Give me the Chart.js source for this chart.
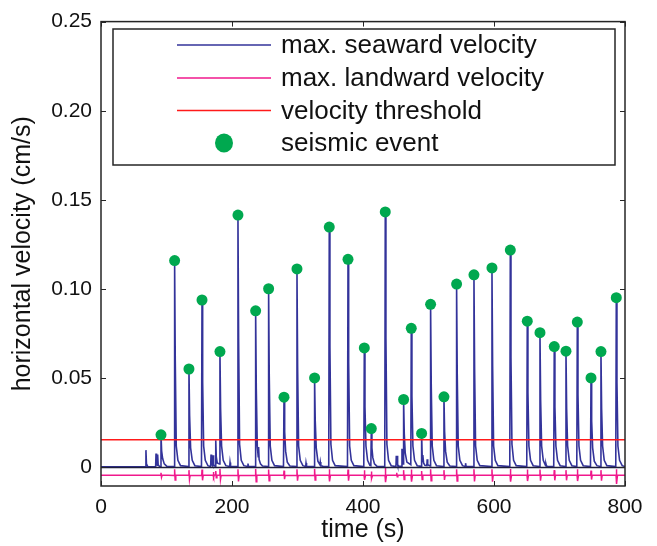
<!DOCTYPE html>
<html>
<head>
<meta charset="utf-8">
<title>Horizontal velocity</title>
<script src="https://cdn.jsdelivr.net/npm/chart.js@4.4.1/dist/chart.umd.min.js"></script>
<style>
  html, body { margin: 0; padding: 0; background: #fff; }
  #wrap { width: 657px; height: 546px; }
</style>
</head>
<body>
<div id="wrap"><canvas id="velocityChart" width="657" height="546"></canvas></div>
<script>
// -- DATA --
const xTicks = [0, 200, 400, 600, 800];
const yTicks = [0, 0.05, 0.1, 0.15, 0.2, 0.25];
const yTickLabels = ["0", "0.05", "0.10", "0.15", "0.20", "0.25"];

// seismic events: time (s) and peak seaward velocity (cm/s)
const eventTime = [91.6, 112.4, 134.3, 154.2, 181.6, 209.1, 236.1, 255.9, 279.4, 299.2, 326.1,
  348.5, 377.1, 402.0, 412.7, 434.0, 462.0, 473.7, 489.5, 503.2, 523.6, 542.9, 569.4,
  596.9, 624.9, 650.8, 670.2, 692.0, 709.9, 727.2, 748.1, 763.3, 786.7];
const eventVel = [0.0183, 0.116, 0.0552, 0.0939, 0.065, 0.1415, 0.0878, 0.1002, 0.0394, 0.1113, 0.0502,
  0.1348, 0.1167, 0.067, 0.0218, 0.1433, 0.0381, 0.078, 0.0191, 0.0915, 0.0396, 0.1028, 0.108,
  0.1119, 0.1219, 0.082, 0.0756, 0.0678, 0.0652, 0.0815, 0.0502, 0.065, 0.0952];

// max. seaward velocity trace
const seawardTime = [
  0,
  67.9, 68.6, 69.4, 71.5,
  83.4, 84.0, 84.8,
  86.0, 86.5, 87.3, 89.5,
  90.9, 91.6, 92.6, 94.1, 96.6, 100.6,
  111.6, 112.4, 113.4, 114.9, 117.4, 121.4,
  133.5, 134.3, 135.3, 136.8, 139.3, 143.3,
  153.4, 154.2, 155.2, 156.7, 159.2, 163.2,
  167.4, 168.0, 168.8, 170.6, 171.2, 171.9, 174.6, 175.2, 176.0, 177.5,
  180.8, 181.6, 182.6, 184.1, 186.6, 190.6,
  196.5, 197.0, 197.8,
  208.3, 209.1, 210.1, 211.6, 214.1, 218.1,
  223.9, 224.4, 225.2,
  235.3, 236.1, 237.1, 238.6, 240.0, 240.6, 241.4, 243.5, 246.5,
  255.1, 255.9, 256.9, 258.4, 260.9, 264.9,
  278.6, 279.4, 280.4, 281.9, 284.4, 288.4,
  298.4, 299.2, 300.2, 301.7, 304.2, 308.2,
  312.5, 313.0, 313.8,
  325.3, 326.1, 327.1, 328.6, 331.1,
  334.3, 334.8, 335.6, 339.0,
  347.7, 348.5, 349.5, 351.0, 353.5, 357.5,
  376.3, 377.1, 378.1, 379.6, 382.1, 386.1,
  401.2, 402.0, 403.0, 404.5, 407.0, 410.5,
  412.0, 412.7, 413.6, 415.0, 417.5, 421.5,
  433.2, 434.0, 435.0, 436.5, 439.0, 443.0,
  450.3, 450.8, 451.5, 452.0, 452.5, 453.2, 455.0,
  459.0, 459.5, 460.2, 461.4, 462.0, 463.0, 464.5, 467.0,
  473.0, 473.7, 474.7, 476.2, 478.7, 482.7,
  488.8, 489.5, 490.4, 491.0, 491.6, 492.5, 494.5,
  497.5, 498.0, 498.8, 502.5, 503.2, 504.2, 505.7, 508.2, 512.2,
  522.8, 523.6, 524.6, 526.1, 528.6, 532.6,
  542.1, 542.9, 543.9, 545.4, 547.9, 551.9,
  556.1, 556.6, 557.4,
  568.6, 569.4, 570.4, 571.9, 574.4, 578.4,
  596.1, 596.9, 597.9, 599.4, 601.9, 605.9,
  624.1, 624.9, 625.9, 627.4, 629.9, 633.9,
  650.0, 650.8, 651.8, 653.3, 655.8, 659.8,
  669.4, 670.2, 671.2, 672.7, 675.2, 678.8, 679.3, 680.1, 682.0,
  691.2, 692.0, 693.0, 694.5, 697.0, 701.0,
  709.1, 709.9, 710.9, 712.4, 714.9, 718.9,
  726.4, 727.2, 728.2, 729.7, 732.2, 736.2,
  747.3, 748.1, 749.1, 750.6, 753.1, 757.1,
  762.5, 763.3, 764.3, 765.8, 768.3, 772.3,
  785.9, 786.7, 787.7, 789.2, 791.7, 795.7, 800
];
const seawardVel = [
  0.0003,
  0.0003, 0.0097, 0.0020, 0.0003,
  0.0003, 0.0078, 0.0015,
  0.0012, 0.0072, 0.0015, 0.0004,
  0.0005, 0.0183, 0.0092, 0.0050, 0.0020, 0.0006,
  0.0005, 0.1160, 0.0600, 0.0120, 0.0040, 0.0010,
  0.0005, 0.0552, 0.0290, 0.0110, 0.0040, 0.0010,
  0.0005, 0.0939, 0.0480, 0.0120, 0.0040, 0.0010,
  0.0005, 0.0072, 0.0020, 0.0008, 0.0068, 0.0015, 0.0006, 0.0152, 0.0060, 0.0025,
  0.0020, 0.0650, 0.0330, 0.0120, 0.0040, 0.0010,
  0.0005, 0.0028, 0.0006,
  0.0005, 0.1415, 0.0720, 0.0130, 0.0040, 0.0010,
  0.0005, 0.0022, 0.0006,
  0.0005, 0.0878, 0.0440, 0.0120, 0.0060, 0.0115, 0.0045, 0.0020, 0.0008,
  0.0005, 0.1002, 0.0510, 0.0120, 0.0040, 0.0010,
  0.0005, 0.0394, 0.0200, 0.0090, 0.0030, 0.0008,
  0.0005, 0.1113, 0.0560, 0.0120, 0.0040, 0.0010,
  0.0005, 0.0025, 0.0006,
  0.0005, 0.0502, 0.0260, 0.0110, 0.0035,
  0.0015, 0.0030, 0.0010, 0.0006,
  0.0005, 0.1348, 0.0680, 0.0130, 0.0040, 0.0010,
  0.0005, 0.1167, 0.0590, 0.0120, 0.0040, 0.0010,
  0.0005, 0.0670, 0.0340, 0.0120, 0.0040, 0.0012,
  0.0010, 0.0218, 0.0110, 0.0055, 0.0020, 0.0006,
  0.0005, 0.1433, 0.0730, 0.0130, 0.0040, 0.0010,
  0.0005, 0.0065, 0.0020, 0.0030, 0.0065, 0.0015, 0.0006,
  0.0006, 0.0105, 0.0030, 0.0020, 0.0381, 0.0190, 0.0080, 0.0030,
  0.0015, 0.0780, 0.0400, 0.0120, 0.0040, 0.0010,
  0.0006, 0.0191, 0.0060, 0.0030, 0.0070, 0.0025, 0.0012,
  0.0010, 0.0046, 0.0015, 0.0008, 0.0915, 0.0460, 0.0120, 0.0040, 0.0010,
  0.0005, 0.0396, 0.0200, 0.0090, 0.0030, 0.0008,
  0.0005, 0.1028, 0.0520, 0.0120, 0.0040, 0.0010,
  0.0005, 0.0024, 0.0006,
  0.0005, 0.1080, 0.0550, 0.0120, 0.0040, 0.0010,
  0.0005, 0.1119, 0.0570, 0.0120, 0.0040, 0.0010,
  0.0005, 0.1219, 0.0620, 0.0130, 0.0040, 0.0010,
  0.0005, 0.0820, 0.0420, 0.0120, 0.0040, 0.0010,
  0.0005, 0.0756, 0.0380, 0.0120, 0.0040, 0.0010, 0.0020, 0.0008, 0.0006,
  0.0005, 0.0678, 0.0340, 0.0120, 0.0040, 0.0010,
  0.0005, 0.0652, 0.0330, 0.0120, 0.0040, 0.0010,
  0.0005, 0.0815, 0.0410, 0.0120, 0.0040, 0.0010,
  0.0005, 0.0502, 0.0260, 0.0110, 0.0035, 0.0010,
  0.0005, 0.0650, 0.0330, 0.0120, 0.0040, 0.0010,
  0.0005, 0.0952, 0.0480, 0.0120, 0.0040, 0.0010, 0.0005
];

// max. landward velocity trace
const landwardTime = [
  0, 89.0,
  91.2, 91.6, 92.4, 93.4,
  112.0, 112.4, 113.2, 114.2,
  133.9, 134.3, 135.1, 136.1,
  153.8, 154.2, 155.0, 156.0,
  171.1, 171.5, 172.3, 173.0,
  174.8, 175.2, 176.0, 177.0,
  181.2, 181.6, 182.4, 183.4,
  208.7, 209.1, 209.9, 210.9,
  235.7, 236.1, 236.9, 237.9,
  255.5, 255.9, 256.7, 257.7,
  279.0, 279.4, 280.2, 281.2,
  298.8, 299.2, 300.0, 301.0,
  325.7, 326.1, 326.9, 327.9,
  348.1, 348.5, 349.3, 350.3,
  376.7, 377.1, 377.9, 378.9,
  401.6, 402.0, 402.8, 403.8,
  412.3, 412.7, 413.5, 414.5,
  433.6, 434.0, 434.8, 435.8,
  451.1, 451.5, 452.3, 453.2,
  461.6, 462.0, 462.8, 463.8,
  473.3, 473.7, 474.5, 475.5,
  489.1, 489.5, 490.3, 491.3,
  502.8, 503.2, 504.0, 505.0,
  523.2, 523.6, 524.4, 525.4,
  542.5, 542.9, 543.7, 544.7,
  569.0, 569.4, 570.2, 571.2,
  596.5, 596.9, 597.7, 598.7,
  624.5, 624.9, 625.7, 626.7,
  650.4, 650.8, 651.6, 652.6,
  669.8, 670.2, 671.0, 672.0,
  691.6, 692.0, 692.8, 693.8,
  709.5, 709.9, 710.7, 711.7,
  726.8, 727.2, 728.0, 729.0,
  747.7, 748.1, 748.9, 749.9,
  762.9, 763.3, 764.1, 765.1,
  786.3, 786.7, 787.5, 788.5,
  800
];
const landwardVel = [
  -0.0044, -0.0044,
  -0.0044, -0.0030, -0.0055, -0.0043,
  -0.0045, -0.0010, -0.0070, -0.0044,
  -0.0044, -0.0015, -0.0068, -0.0045,
  -0.0045, -0.0012, -0.0072, -0.0044,
  -0.0044, -0.0025, -0.0055, -0.0043,
  -0.0043, -0.0020, -0.0058, -0.0044,
  -0.0044, -0.0008, -0.0068, -0.0045,
  -0.0044, -0.0010, -0.0078, -0.0044,
  -0.0045, -0.0008, -0.0080, -0.0044,
  -0.0044, -0.0012, -0.0075, -0.0044,
  -0.0044, -0.0018, -0.0066, -0.0045,
  -0.0044, -0.0010, -0.0074, -0.0044,
  -0.0045, -0.0008, -0.0070, -0.0044,
  -0.0044, -0.0010, -0.0078, -0.0044,
  -0.0044, -0.0012, -0.0074, -0.0044,
  -0.0044, -0.0015, -0.0070, -0.0044,
  -0.0044, -0.0022, -0.0062, -0.0045,
  -0.0044, 0.0000, -0.0082, -0.0044,
  -0.0044, -0.0030, -0.0052, -0.0044,
  -0.0044, -0.0015, -0.0068, -0.0044,
  -0.0044, -0.0012, -0.0080, -0.0044,
  -0.0044, -0.0020, -0.0068, -0.0044,
  -0.0044, -0.0010, -0.0074, -0.0044,
  -0.0044, -0.0015, -0.0070, -0.0045,
  -0.0044, -0.0010, -0.0076, -0.0044,
  -0.0044, -0.0010, -0.0078, -0.0044,
  -0.0044, -0.0010, -0.0080, -0.0044,
  -0.0044, -0.0008, -0.0080, -0.0044,
  -0.0044, -0.0012, -0.0076, -0.0044,
  -0.0044, -0.0012, -0.0074, -0.0044,
  -0.0044, -0.0015, -0.0072, -0.0044,
  -0.0044, -0.0015, -0.0072, -0.0044,
  -0.0044, -0.0010, -0.0076, -0.0044,
  -0.0044, -0.0018, -0.0068, -0.0044,
  -0.0044, -0.0015, -0.0074, -0.0044,
  -0.0044, -0.0010, -0.0092, -0.0044,
  -0.0044
];

const thresholdTime = [0, 800];
const thresholdVel = [0.0155, 0.0155];
const zeroTime = [0, 800];
const zeroVel = [0, 0];

// -- HELPERS --
const FONT = "'Liberation Sans', Arial, Helvetica, sans-serif";
const toPoints = (xs, ys) => xs.map((x, i) => ({ x: x, y: ys[i] }));

// Box round the axes with inward ticks + MATLAB-style legend
const frameAndLegend = {
  id: "frameAndLegend",
  afterDatasetsDraw(chart) {
    const { ctx, chartArea: a, scales } = chart;
    ctx.save();
    ctx.strokeStyle = "#262626";
    ctx.lineWidth = 1.5;
    ctx.strokeRect(a.left, a.top, a.right - a.left, a.bottom - a.top);

    ctx.beginPath();
    xTicks.forEach((v) => {
      const px = Math.round(scales.x.getPixelForValue(v)) + 0.5;
      ctx.moveTo(px, a.bottom); ctx.lineTo(px, a.bottom - 5);
      ctx.moveTo(px, a.top); ctx.lineTo(px, a.top + 5);
    });
    yTicks.forEach((v) => {
      const py = Math.round(scales.y.getPixelForValue(v)) + 0.5;
      ctx.moveTo(a.left, py); ctx.lineTo(a.left + 5, py);
      ctx.moveTo(a.right, py); ctx.lineTo(a.right - 5, py);
    });
    ctx.lineWidth = 1;
    ctx.stroke();

    // legend box
    const box = { left: 113, top: 29, right: 615, bottom: 165 };
    ctx.fillStyle = "#fff";
    ctx.fillRect(box.left, box.top, box.right - box.left, box.bottom - box.top);
    ctx.lineWidth = 1.5;
    ctx.strokeStyle = "#262626";
    ctx.strokeRect(box.left, box.top, box.right - box.left, box.bottom - box.top);

    const rowY = [45, 78, 110.5, 143];
    const items = chart.data.datasets.filter((d) => d.label);
    items.sort((p, q) => p.legendRank - q.legendRank);
    ctx.font = "26px " + FONT;
    ctx.textBaseline = "middle";
    ctx.textAlign = "left";
    items.forEach((d, i) => {
      const y = rowY[i];
      if (d.showLine === false) {
        ctx.beginPath();
        ctx.fillStyle = d.pointBackgroundColor;
        ctx.ellipse(224, y, 9, 9.5, 0, 0, Math.PI * 2);
        ctx.fill();
      } else {
        ctx.beginPath();
        ctx.strokeStyle = d.borderColor;
        ctx.lineWidth = 1.5;
        ctx.moveTo(177, y);
        ctx.lineTo(271, y);
        ctx.stroke();
      }
      ctx.fillStyle = "#111";
      ctx.fillText(d.label, 281, y + 1);
    });
    ctx.restore();
  },
};

document.addEventListener("DOMContentLoaded", function () {
  const ctx = document.getElementById("velocityChart");

  new Chart(ctx, {
    type: "scatter",
    data: {
      datasets: [
        {
          label: "seismic event",
          legendRank: 3,
          data: toPoints(eventTime, eventVel),
          showLine: false,
          pointRadius: 5.5,
          pointBackgroundColor: "#00a84f",
          pointBorderWidth: 0,
          order: 0,
        },
        {
          label: "velocity threshold",
          legendRank: 2,
          data: toPoints(thresholdTime, thresholdVel),
          showLine: true,
          borderColor: "#ff1a1a",
          borderWidth: 1.5,
          pointRadius: 0,
          order: 1,
        },
        {
          label: "max. seaward velocity",
          legendRank: 0,
          data: toPoints(seawardTime, seawardVel),
          showLine: true,
          borderColor: "#33339a",
          borderWidth: 1.6,
          pointRadius: 0,
          order: 3,
        },
        {
          label: "max. landward velocity",
          legendRank: 1,
          data: toPoints(landwardTime, landwardVel),
          showLine: true,
          borderColor: "#f0188c",
          borderWidth: 1.5,
          pointRadius: 0,
          order: 4,
        },
        {
          data: toPoints(zeroTime, zeroVel),
          showLine: true,
          borderColor: "#1e1e3c",
          borderWidth: 1.5,
          pointRadius: 0,
          order: 2,
        },
      ],
    },
    options: {
      responsive: false,
      animation: false,
      events: [],
      layout: { padding: { left: 0, right: 32, top: 18, bottom: 0 } },
      plugins: {
        legend: { display: false },
        tooltip: { enabled: false },
      },
      scales: {
        x: {
          type: "linear",
          min: 0,
          max: 800,
          grid: { display: false, drawTicks: false },
          border: { display: false },
          afterBuildTicks: (scale) => { scale.ticks = xTicks.map((v) => ({ value: v })); },
          afterFit: (scale) => { scale.height = 60; },
          ticks: {
            padding: 9,
            color: "#111",
            font: { family: FONT, size: 21 },
            maxRotation: 0,
            callback: (v) => String(v),
          },
          title: {
            display: true,
            text: "time (s)",
            color: "#111",
            font: { family: FONT, size: 25 },
            padding: { top: 0, bottom: 1 },
          },
        },
        y: {
          type: "linear",
          min: -0.0104,
          max: 0.25,
          grid: { display: false, drawTicks: false },
          border: { display: false },
          afterBuildTicks: (scale) => { scale.ticks = yTicks.map((v) => ({ value: v })); },
          afterFit: (scale) => { scale.width = 101; },
          ticks: {
            padding: 9,
            color: "#111",
            font: { family: FONT, size: 21 },
            callback: (v) => yTickLabels[yTicks.indexOf(v)],
          },
          title: {
            display: true,
            text: "horizontal velocity (cm/s)",
            color: "#111",
            font: { family: FONT, size: 25 },
            padding: { top: 8, bottom: 0 },
          },
        },
      },
    },
    plugins: [frameAndLegend],
  });
});
</script>
</body>
</html>
